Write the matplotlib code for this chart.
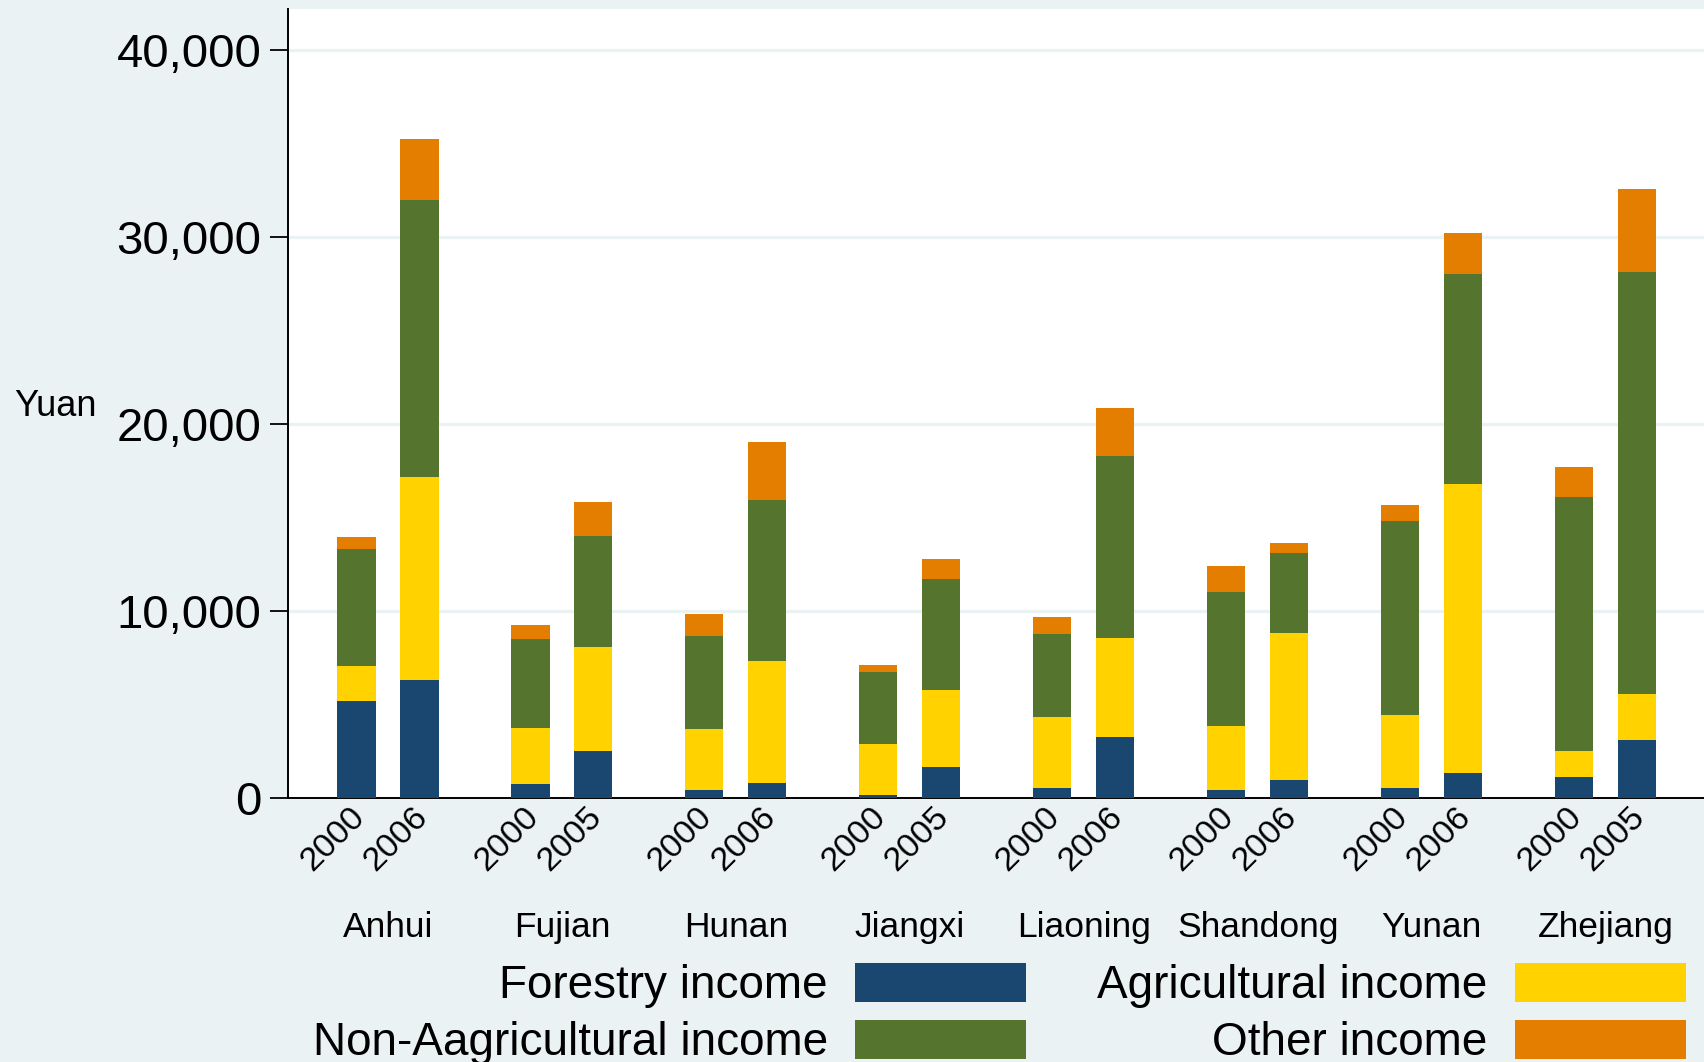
import matplotlib
matplotlib.use("Agg")
import matplotlib.pyplot as plt
import matplotlib.transforms as mtransforms
import numpy as np

plt.rcParams['font.family'] = ['Liberation Sans', 'DejaVu Sans']

provinces = ["Anhui", "Fujian", "Hunan", "Jiangxi", "Liaoning", "Shandong", "Yunan", "Zhejiang"]
years = ["2000", "2006", "2000", "2005", "2000", "2006", "2000", "2005",
         "2000", "2006", "2000", "2006", "2000", "2006", "2000", "2005"]

forestry = [5200, 6280, 720, 2520, 410, 770, 180, 1640,
            510, 3230, 400, 930, 510, 1340, 1140, 3120]
agricultural = [1830, 10880, 3040, 5530, 3300, 6560, 2690, 4140,
                3800, 5330, 3460, 7910, 3910, 15420, 1380, 2420]
non_agricultural = [6270, 14790, 4750, 5930, 4970, 8590, 3840, 5910,
                    4470, 9710, 7130, 4280, 10370, 11260, 13550, 22570]
other = [660, 3270, 710, 1860, 1160, 3130, 410, 1060,
         910, 2570, 1400, 510, 880, 2200, 1610, 4430]

series_labels = ["Forestry income", "Agricultural income", "Non-Aagricultural income", "Other income"]
series_colors = ["#1A476F", "#FFD200", "#55752F", "#E37E00"]

BG = "#EAF2F3"

fig = plt.figure(figsize=(17.04, 10.62), dpi=100, facecolor=BG)
ax = fig.add_axes([0.1690, 0.2487, 0.8310, 0.7431])
ax.set_facecolor("white")

n_groups = len(provinces)
offset = 0.181
width = 0.219
group_idx = np.repeat(np.arange(n_groups), 2)
side = np.tile([-1, 1], n_groups)
xpos = group_idx + side * offset

series = [forestry, agricultural, non_agricultural, other]
bottom = np.zeros(len(xpos))
handles = []
for vals, lab, col in zip(series, series_labels, series_colors):
    v = np.array(vals, dtype=float)
    h = ax.bar(xpos, v, width=width, bottom=bottom, color=col, label=lab,
               linewidth=0, zorder=3)
    handles.append(h)
    bottom = bottom + v

ax.set_xlim(-0.575, 7.565)
ax.set_ylim(0, 42200)
ax.set_yticks([0, 10000, 20000, 30000, 40000])
ax.set_yticklabels([f"{t:,}" for t in [0, 10000, 20000, 30000, 40000]], fontsize=34)
ax.tick_params(axis='y', length=13, width=1.3, pad=6, colors='black')
ax.yaxis.grid(True, color=BG, linewidth=2.3, zorder=0)
ax.set_axisbelow(True)

ax.set_xticks(xpos)
ax.set_xticklabels(years, rotation=45, ha='right', fontsize=24.5)
ax.tick_params(axis='x', length=0, pad=2.2)
shift = mtransforms.ScaledTranslation(14 / 100, 0, fig.dpi_scale_trans)
for lbl in ax.get_xticklabels():
    lbl.set_transform(lbl.get_transform() + shift)

trans = mtransforms.blended_transform_factory(ax.transData, ax.transAxes)
for i, p in enumerate(provinces):
    ax.text(i, -0.164, p, transform=trans, ha='center', va='center', fontsize=25.5)

for s in ['top', 'right']:
    ax.spines[s].set_visible(False)
for s in ['left', 'bottom']:
    ax.spines[s].set_linewidth(1.4)
    ax.spines[s].set_color('black')

fig.text(55.4 / 1704, 1 - 407 / 1062, "Yuan", ha='center', va='center', fontsize=26)

order = [0, 2, 1, 3]
leg = fig.legend([handles[i] for i in order], [series_labels[i] for i in order],
                 loc='lower right', bbox_to_anchor=(1686 / 1704, -3 / 1062),
                 ncol=2, frameon=False, markerfirst=False, fontsize=33,
                 handlelength=3.73, handleheight=0.93, handletextpad=0.6,
                 columnspacing=1.55, labelspacing=0.26, borderpad=0, borderaxespad=0)

fig.savefig("out.png", dpi=100, facecolor=BG)
